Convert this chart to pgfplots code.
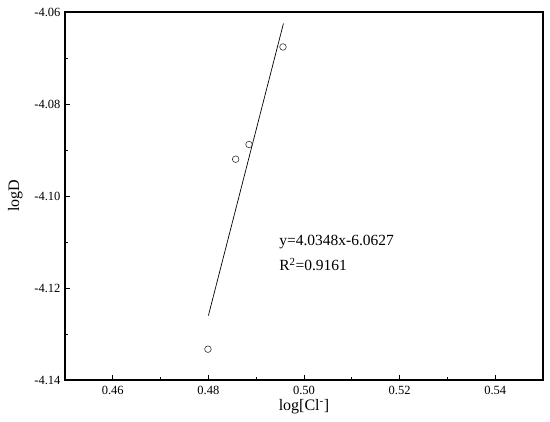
\documentclass[border=0pt]{standalone}
\usepackage{fontspec}
\setmainfont{Liberation Serif}
\usepackage{pgfplots}
\pgfplotsset{compat=1.18}
\begin{document}
\begin{tikzpicture}
\useasboundingbox (-65pt,-42pt) rectangle (485pt,380pt);
\begin{axis}[
  at={(0,0)}, anchor=south west,
  scale only axis, width=478pt, height=368pt,
  xmin=0.45, xmax=0.55, ymin=-4.14, ymax=-4.06,
  xtick={0.46,0.48,0.50,0.52,0.54},
  xticklabels={0.46,0.48,0.50,0.52,0.54},
  ytick={-4.14,-4.12,-4.10,-4.08,-4.06},
  yticklabels={-4.14,-4.12,-4.10,-4.08,-4.06},
  minor x tick num=1, minor y tick num=1,
  tick align=inside, tick pos=left,
  major tick length=5pt, minor tick length=3pt,
  axis line style={line width=1.2pt},
  every tick/.style={black, line width=0.9pt},
  /pgf/number format/assume math mode=true,
  tick label style={font=\fontsize{12.5}{14}\selectfont},
  xticklabel style={yshift=-3pt},
  yticklabel style={xshift=-1pt},
  xlabel={log[Cl\textsuperscript{-}]},
  ylabel={logD},
  label style={font=\fontsize{16}{18}\selectfont},
  xlabel style={yshift=2pt},
  ylabel style={yshift=5pt},
  clip=false,
]
\addplot[only marks, mark=o, mark size=3.3pt, mark options={line width=0.6pt, draw=black!80}]
  coordinates {(0.4956,-4.0676) (0.4885,-4.0888) (0.4857,-4.0920) (0.4799,-4.1333)};
\addplot[black, line width=0.7pt] coordinates {(0.4800,-4.1260) (0.4957,-4.0625)};
\node[anchor=west, font=\fontsize{15.5}{17}\selectfont, inner sep=0pt] at (axis cs:0.4948,-4.1101) {y=4.0348x-6.0627};
\node[anchor=west, font=\fontsize{15.5}{17}\selectfont, inner sep=0pt] at (axis cs:0.4948,-4.1149) {R\textsuperscript{2}=0.9161};
\end{axis}
\end{tikzpicture}
\end{document}
